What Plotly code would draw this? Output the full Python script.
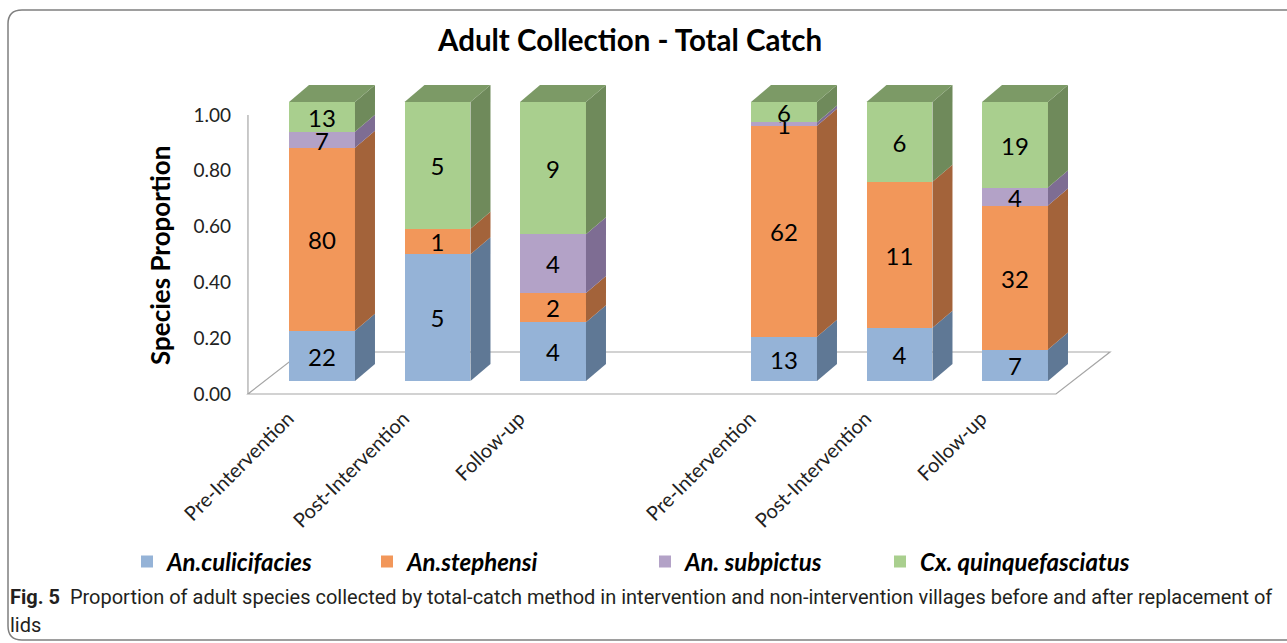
import plotly.graph_objects as go

# ---------------- data ----------------
categories = ["Pre-Intervention", "Post-Intervention", "Follow-up",
              "Pre-Intervention", "Post-Intervention", "Follow-up"]
species = ["An.culicifacies", "An.stephensi", "An. subpictus", "Cx. quinquefasciatus"]
culicifacies = [22, 5, 4, 13, 4, 7]
stephensi = [80, 1, 2, 62, 11, 32]
subpictus = [7, 0, 4, 1, 0, 4]
quinquefasciatus = [13, 5, 9, 6, 6, 19]
y_ticks = [0.0, 0.2, 0.4, 0.6, 0.8, 1.0]
y_tick_text = ["0.00", "0.20", "0.40", "0.60", "0.80", "1.00"]

counts = [culicifacies, stephensi, subpictus, quinquefasciatus]
totals = [sum(c[i] for c in counts) for i in range(len(categories))]
props = [[c[i] / totals[i] for i in range(len(categories))] for c in counts]

# ---------------- style / layout helpers ----------------
front = ["#95B3D7", "#F2975A", "#B3A2C7", "#A9CF8E"]
side = ["#5F7895", "#A3633A", "#7E6D93", "#6F8A5B"]
top_col = "#7C9A66"
legend_ids = ["legend", "legend2", "legend3", "legend4"]
legend_x_px = [127, 367, 645, 880]
positions = [0, 1, 2, 4, 5, 6]
bar_w = 0.571
unit_px = 115.5
y_px = 279.0
dx = 20 / unit_px
dy = 17 / y_px
d = 13 / y_px            # offset between axis floor and bar front bottom
x_axis = -0.641          # vertical axis line position
floor_dx = 54 / unit_px
floor_dy = 42 / y_px
floor_right = 6.355

PL, PR, PT, PB = 246, 1115, 80, 396
W, H = 1287, 643


def px_x(px):
    return (px - PL) / (PR - PL)


def px_y(py):
    return (PB - py) / (PB - PT)


fig = go.Figure()
for k, name in enumerate(species):
    fig.add_trace(go.Bar(
        x=positions, y=props[k], name=name, width=bar_w,
        marker=dict(color=front[k], line=dict(width=0)),
        text=[str(v) if v > 0 else "" for v in counts[k]],
        textposition="inside", insidetextanchor="middle", textangle=0,
        textfont=dict(size=24, color="black", family="Lato"),
        hoverinfo="skip", cliponaxis=False, legend=legend_ids[k],
    ))

shapes = []
# floor parallelogram
floor_path = (f"M {x_axis},{-d} L {floor_right},{-d} "
              f"L {floor_right + floor_dx},{-d + floor_dy} "
              f"L {x_axis + floor_dx},{-d + floor_dy} Z")
shapes.append(dict(type="path", path=floor_path, xref="x", yref="y",
                   line=dict(color="#A6A6A6", width=1.2), fillcolor="rgba(0,0,0,0)",
                   layer="below"))
# vertical axis line
shapes.append(dict(type="line", x0=x_axis, x1=x_axis, y0=-d, y1=1 - d, xref="x", yref="y",
                   line=dict(color="#A6A6A6", width=1.2), layer="below"))

# 3D side and top faces
for i, p in enumerate(positions):
    xr = p + bar_w / 2
    xl = p - bar_w / 2
    base = 0.0
    for k in range(len(species)):
        h = props[k][i]
        if h <= 0:
            continue
        y0, y1 = base, base + h
        path = (f"M {xr},{y0} L {xr + dx},{y0 + dy} L {xr + dx},{y1 + dy} L {xr},{y1} Z")
        shapes.append(dict(type="path", path=path, xref="x", yref="y",
                           fillcolor=side[k], line=dict(width=0), layer="above"))
        base = y1
    tpath = (f"M {xl},{base} L {xl + dx},{base + dy} L {xr + dx},{base + dy} L {xr},{base} Z")
    shapes.append(dict(type="path", path=tpath, xref="x", yref="y",
                       fillcolor=top_col, line=dict(width=0), layer="above"))

# outer rounded frame
r = 14
fx0, fx1, fy0, fy1 = 8, 1300, 10, 640
fp = (f"M {px_x(fx0 + r)},{px_y(fy0)} L {px_x(fx1)},{px_y(fy0)} "
      f"M {px_x(fx1)},{px_y(fy1)} L {px_x(fx0 + r)},{px_y(fy1)} "
      f"Q {px_x(fx0)},{px_y(fy1)} {px_x(fx0)},{px_y(fy1 - r)} "
      f"L {px_x(fx0)},{px_y(fy0 + r)} "
      f"Q {px_x(fx0)},{px_y(fy0)} {px_x(fx0 + r)},{px_y(fy0)}")
shapes.append(dict(type="path", path=fp, xref="paper", yref="paper",
                   line=dict(color="#7F7F7F", width=1.5)))

annotations = [
    dict(text="<b>Species Proportion</b>", x=px_x(160), y=px_y(256), xref="paper", yref="paper",
         textangle=-90, showarrow=False, font=dict(size=26, color="black", family="Lato"),
         xanchor="center", yanchor="middle"),
    dict(text="<b>Fig. 5</b>  Proportion of adult species collected by total-catch method in intervention "
              "and non-intervention villages before and after replacement of",
         x=px_x(8), y=px_y(597), xref="paper", yref="paper", showarrow=False,
         xanchor="left", yanchor="middle", font=dict(size=20, color="#231F20", family="Roboto")),
    dict(text="lids", x=px_x(8), y=px_y(625), xref="paper", yref="paper", showarrow=False,
         xanchor="left", yanchor="middle", font=dict(size=20, color="#231F20", family="Roboto")),
]

legend_font = dict(size=24, color="black", family="Lato", style="italic", weight="bold")
legends = {}
for k, lid in enumerate(legend_ids):
    legends[lid] = dict(orientation="h", x=px_x(legend_x_px[k]), y=px_y(562),
                        xanchor="left", yanchor="middle", xref="paper", yref="paper",
                        bgcolor="rgba(0,0,0,0)", font=legend_font, itemwidth=30)

fig.update_layout(
    width=W, height=H,
    margin=dict(l=PL, r=W - PR, t=PT, b=H - PB, autoexpand=False),
    paper_bgcolor="white", plot_bgcolor="white",
    barmode="stack", bargap=0,
    uniformtext=dict(minsize=24, mode="show"),
    title=dict(text="<b>Adult Collection - Total Catch</b>", x=630 / W, xref="container",
               xanchor="center", y=1 - 41 / H, yanchor="middle",
               font=dict(size=29.5, color="black", family="Lato")),
    xaxis=dict(range=[(PL - 322) / unit_px, (PR - 322) / unit_px], tickmode="array",
               tickvals=positions, ticktext=categories, tickangle=-45,
               showgrid=False, zeroline=False, showline=False, ticks="",
               tickfont=dict(size=20, color="#222", family="Lato"),
               ticklabelshift=-34, ticklabelstandoff=6),
    yaxis=dict(range=[-(PB - 381) / y_px, (381 - PT) / y_px], tickmode="array",
               tickvals=[v - d for v in y_ticks], ticktext=y_tick_text,
               showgrid=False, zeroline=False, showline=False, ticks="",
               tickfont=dict(size=19, color="#222", family="Lato"),
               ticklabelstandoff=14),
    showlegend=True,
    shapes=shapes, annotations=annotations,
    **legends,
)

fig.write_html("out.html")
